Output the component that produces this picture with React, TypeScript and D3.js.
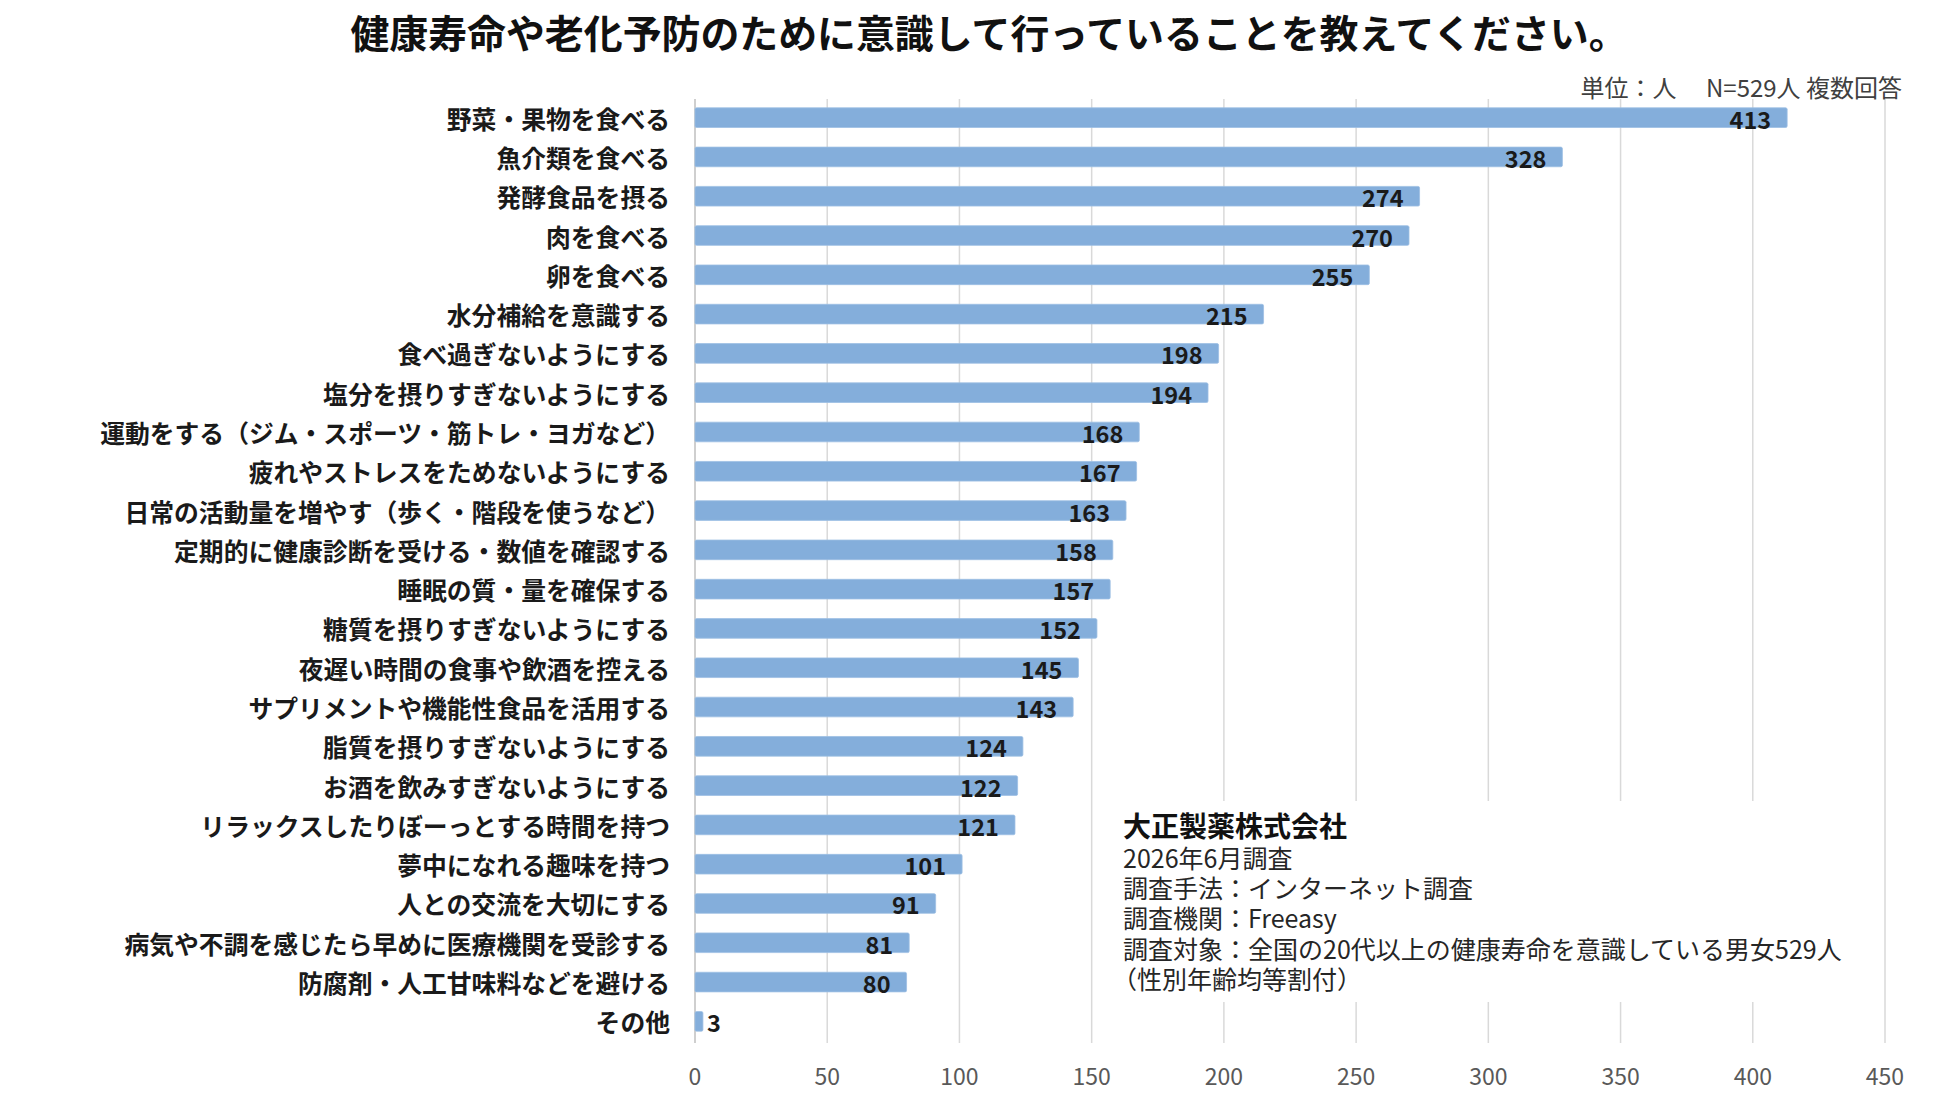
import React from "react";
import * as d3 from "d3";

const categories = [
  "野菜・果物を食べる",
  "魚介類を食べる",
  "発酵食品を摂る",
  "肉を食べる",
  "卵を食べる",
  "水分補給を意識する",
  "食べ過ぎないようにする",
  "塩分を摂りすぎないようにする",
  "運動をする（ジム・スポーツ・筋トレ・ヨガなど）",
  "疲れやストレスをためないようにする",
  "日常の活動量を増やす（歩く・階段を使うなど）",
  "定期的に健康診断を受ける・数値を確認する",
  "睡眠の質・量を確保する",
  "糖質を摂りすぎないようにする",
  "夜遅い時間の食事や飲酒を控える",
  "サプリメントや機能性食品を活用する",
  "脂質を摂りすぎないようにする",
  "お酒を飲みすぎないようにする",
  "リラックスしたりぼーっとする時間を持つ",
  "夢中になれる趣味を持つ",
  "人との交流を大切にする",
  "病気や不調を感じたら早めに医療機関を受診する",
  "防腐剤・人工甘味料などを避ける",
  "その他",
];

const values = [413, 328, 274, 270, 255, 215, 198, 194, 168, 167, 163, 158, 157, 152, 145, 143, 124, 122, 121, 101, 91, 81, 80, 3];

const xTicks = [0, 50, 100, 150, 200, 250, 300, 350, 400, 450];

const titleText = "健康寿命や老化予防のために意識して行っていることを教えてください。";
const unitNote = "単位：人　 N=529人 複数回答";
const companyName = "大正製薬株式会社";
const surveyNotes = [
  "2026年6月調査",
  "調査手法：インターネット調査",
  "調査機関：Freeasy",
  "調査対象：全国の20代以上の健康寿命を意識している男女529人",
  "（性別年齢均等割付）",
];

const W = 1950;
const H = 1095;
const FONT = "'Noto Sans CJK JP', 'Noto Sans', sans-serif";

export default function App() {
  const x = d3.scaleLinear().domain([0, 450]).range([695, 1885]);
  const y = d3
    .scaleBand<string>()
    .domain(categories)
    .range([98, 1041])
    .paddingInner(0.5)
    .paddingOuter(0.25);

  const gridTop = 99;
  const gridBottom = 1043;

  return (
    <svg
      width={W}
      height={H}
      style={{ position: "absolute", left: 0, top: 0, background: "#fff" }}
      fontFamily={FONT}
    >
      <rect x={0} y={0} width={W} height={H} fill="#fff" />
      {xTicks.map((t) => (
        <line
          key={"g" + t}
          x1={x(t)}
          x2={x(t)}
          y1={gridTop}
          y2={gridBottom}
          stroke={t === 0 ? "#bfbfbf" : "#d9d9d9"}
          strokeWidth={1.5}
        />
      ))}
      {xTicks.map((t) => (
        <text
          key={"t" + t}
          x={x(t)}
          y={1075}
          textAnchor="middle"
          dominantBaseline="central"
          fontSize={23}
          fill="#595959"
        >
          {t}
        </text>
      ))}
      {categories.map((c, i) => {
        const v = values[i];
        const y0 = y(c)!;
        const bw = y.bandwidth();
        const xe = x(v);
        const inside = xe - x(0) > 50;
        return (
          <g key={c}>
            <rect
              x={x(0)}
              y={y0}
              width={xe - x(0)}
              height={bw}
              fill="#84aedb"
              stroke="#9dbfe3"
              strokeWidth={0.8}
              rx={1.5}
            />
            <text
              x={inside ? xe - 16 : xe + 4}
              y={y0 + bw / 2 + 1}
              textAnchor={inside ? "end" : "start"}
              dominantBaseline="central"
              fontSize={23.5}
              fontWeight="bold"
              fill="#1a1a1a"
            >
              {v}
            </text>
            <text
              x={670}
              y={y0 + bw / 2}
              textAnchor="end"
              dominantBaseline="central"
              fontSize={24.8}
              fontWeight="bold"
              fill="#1a1a1a"
            >
              {c}
            </text>
          </g>
        );
      })}
      <text
        x={989}
        y={31}
        textAnchor="middle"
        dominantBaseline="central"
        fontSize={38.9}
        fontWeight="bold"
        fill="#111"
      >
        {titleText}
      </text>
      <text
        x={1902}
        y={86}
        textAnchor="end"
        dominantBaseline="central"
        fontSize={24}
        fill="#404040"
      >
        {unitNote}
      </text>
      <rect x={1098} y={801} width={772} height={201} fill="#fff" />
      <text
        x={1123}
        y={825}
        dominantBaseline="central"
        fontSize={28}
        fontWeight="bold"
        fill="#111"
      >
        {companyName}
      </text>
      {surveyNotes.map((s, i) => (
        <text
          key={s}
          x={s.startsWith("（") ? 1112 : 1123}
          y={857 + i * 30.2}
          dominantBaseline="central"
          fontSize={25}
          fill="#262626"
        >
          {s}
        </text>
      ))}
    </svg>
  );
}
